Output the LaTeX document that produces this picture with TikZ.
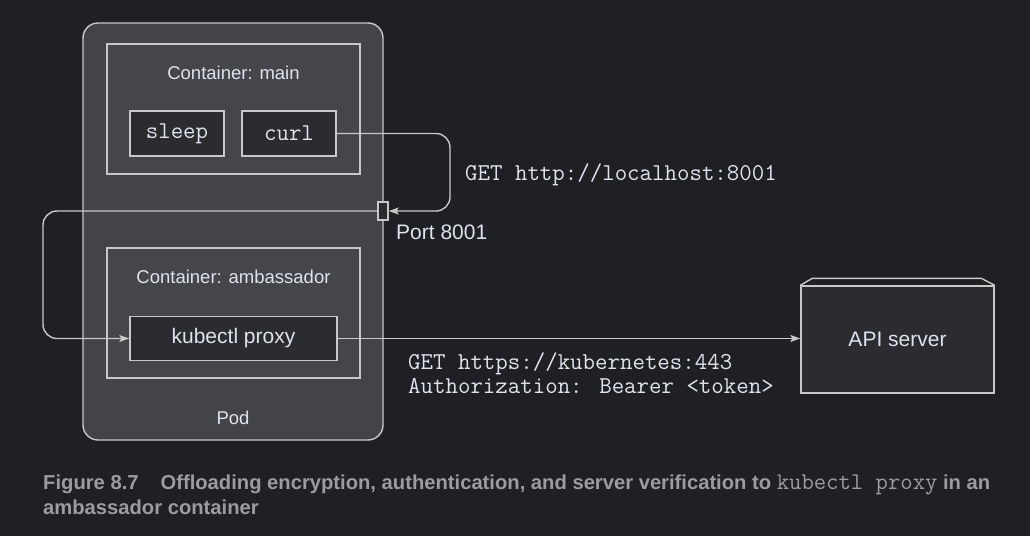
\documentclass[tikz,border=0pt]{standalone}
\usepackage{fontspec}
\setmainfont{Liberation Sans}
\usetikzlibrary{arrows.meta,positioning}
\definecolor{bgcol}{RGB}{31,32,35}
\definecolor{podcol}{RGB}{67,68,71}
\definecolor{ctrcol}{RGB}{69,70,74}
\definecolor{proccol}{RGB}{43,44,48}
\definecolor{linecol}{RGB}{200,200,200}
\definecolor{txtcol}{RGB}{221,227,238}
\definecolor{capcol}{RGB}{155,156,162}

\begin{document}
\begin{tikzpicture}[x=1pt,y=-1pt,
    box/.style={draw=linecol, line width=1.4pt, inner sep=0pt},
    podbox/.style={box, fill=podcol, rounded corners=15pt},
    ctrbox/.style={box, fill=ctrcol},
    procbox/.style={box, fill=proccol, text=txtcol},
    lbl/.style={text=txtcol, font=\fontsize{18.5}{22}\selectfont},
    biglbl/.style={text=txtcol, font=\fontsize{21}{25}\selectfont},
    code/.style={text=txtcol, font=\ttfamily\fontsize{24.2}{28}\selectfont},
    caption/.style={text=capcol, font=\bfseries\fontsize{20.2}{24}\selectfont, inner sep=0pt},
    link/.style={draw=linecol, line width=1.4pt, rounded corners=14pt,
        -{Stealth[length=10pt,width=7pt,inset=2pt]}}]
    % Background and frame
    \fill[bgcol] (0,0) rectangle (1030,536);
    \useasboundingbox (0,0) rectangle (1030,536);

    % Pod
    \node[podbox, minimum width=300, minimum height=417] (pod) at (233,231.5) {};
    \node[lbl, anchor=base] (podlbl) at (233,424) {Pod};

    % Container main
    \node[ctrbox, minimum width=253, minimum height=130] (main) at (233.5,109) {};
    \node[lbl, anchor=base] (mainlbl) at (233.5,79) {Container: main};
    \node[procbox, code, minimum width=94, minimum height=45] (sleep) at (177,133.5) {sleep};
    \node[procbox, code, minimum width=94, minimum height=45] (curl) at (289,133.5) {curl};

    % Container ambassador
    \node[ctrbox, minimum width=253, minimum height=130] (amb) at (233.5,313) {};
    \node[lbl, anchor=base] (amblbl) at (233.5,283) {Container: ambassador};
    \node[procbox, biglbl, minimum width=207, minimum height=44] (kub) at (233.5,338.5) {kubectl proxy};

    % Port
    \node[procbox, minimum width=10, minimum height=18] (port) at (383,211) {};
    \node[biglbl, anchor=base west, inner sep=0pt] (portlbl) at (396,239) {Port 8001};

    % API server
    \node[procbox, biglbl, minimum width=193, minimum height=107] (api) at (897.5,339.5) {API server};
    \draw[draw=linecol, line width=1.4pt, line join=round]
        (api.north west) -- ++(12,-7) -- ++(169,0) -- (api.north east);

    % Connections
    \coordinate (turnA) at (450,211);
    \coordinate (turnB) at (43,211);
    \draw[link] (curl.east) -| (turnA) -- (port.east);
    \draw[link] (port.west) -- (turnB) |- (kub.west);
    \draw[link] (kub.east) -- (kub.east -| api.west);

    % Request labels
    \node[code, anchor=base west, inner sep=0pt] (getlocal) at (465,180) {GET http://localhost:8001};
    \node[code, anchor=base west, inner sep=0pt] (getapi) at (408,369) {GET https://kubernetes:443};
    \node[code, anchor=base west, inner sep=0pt] (authhdr) at (408,393) {Authorization: Bearer <token>};

    % Caption
    \node[caption, anchor=base west] (capA) at (43,489)
        {Figure 8.7\hspace{22pt}Offloading encryption, authentication, and server verification to {\mdseries\ttfamily\fontsize{24}{28}\selectfont kubectl proxy} in an};
    \node[caption, anchor=base west] (capB) at (43,514) {ambassador container};
\end{tikzpicture}
\end{document}
